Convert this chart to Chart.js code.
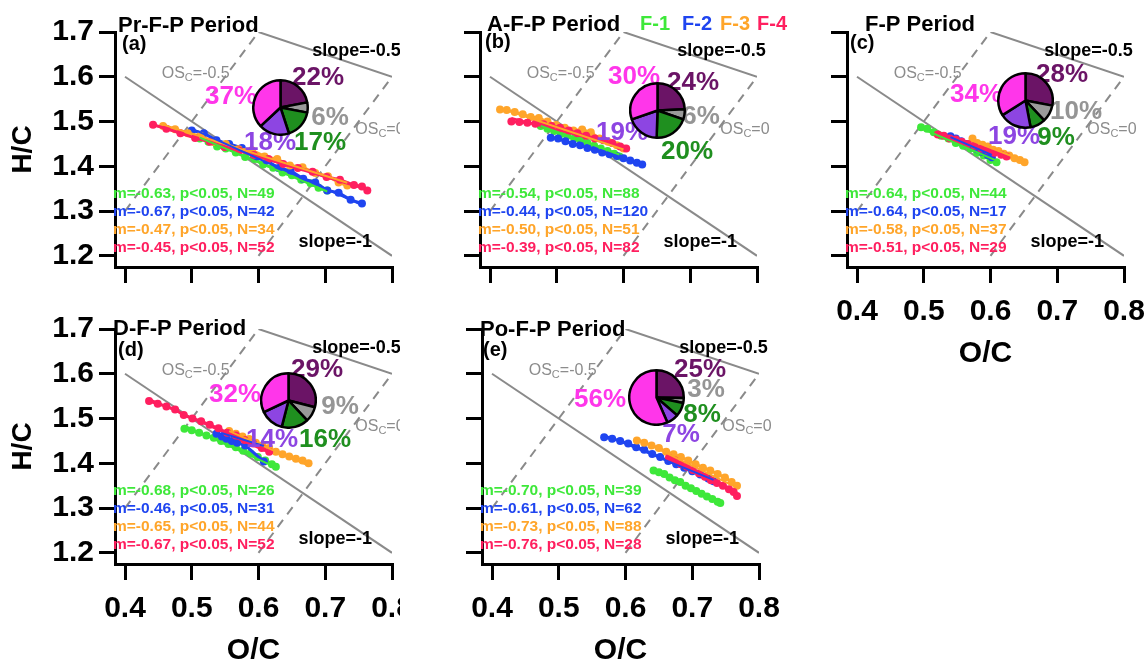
<!DOCTYPE html>
<html>
<head>
<meta charset="utf-8">
<script src="https://cdn.jsdelivr.net/npm/chart.js@4.4.1/dist/chart.umd.min.js"></script>
<style>
  html, body { margin: 0; padding: 0; background: #fff; overflow: hidden; }
  #wrap { position: relative; width: 1148px; height: 661px; }
  #wrap canvas { position: absolute; }
</style>
</head>
<body>
<div id="wrap"></div>
<script>
const FONT = '"Liberation Sans", Arial, Helvetica, sans-serif';

// Серии F-1..F-4 и их цвета
const seriesNames = ['F-1', 'F-2', 'F-3', 'F-4'];
const seriesColors = ['#3ee83a', '#1f45f0', '#ffa52a', '#ff1f5f'];

// Доли факторов для круговых диаграмм (по часовой стрелке от 12 часов)
const pieNames = ['purple', 'gray', 'green', 'violet', 'magenta'];
const pieColors = ['#6b1466', '#9a9a9a', '#1f8f1f', '#8d45e2', '#ff36ea'];
const pieTextColors = ['#6b1466', '#959595', '#1f8f1f', '#8d45e2', '#ff36ea'];

// Деления осей
const ocTicks = [0.4, 0.5, 0.6, 0.7, 0.8];
const hcTicks = [1.2, 1.3, 1.4, 1.5, 1.6, 1.7];

// Опорные линии Ван Кревелена (O/C, H/C)
const slopeHalfLine = [[0.6, 1.7], [0.8, 1.6]];
const slopeOneLine = [[0.4, 1.6], [0.8, 1.2]];
const oscMinusHalfLine = [[0.4, 1.3], [0.6, 1.7]];
const oscZeroLine = [[0.6, 1.2], [0.8, 1.6]];

// (a) Pr-F-P
const prF1 = [[0.512,1.462],[0.525,1.455],[0.538,1.444],[0.551,1.440],[0.566,1.431],[0.580,1.421],[0.594,1.416],[0.607,1.404],[0.622,1.397],[0.636,1.386],[0.650,1.380],[0.664,1.370],[0.678,1.362],[0.690,1.352],[0.703,1.346]];
const prF2 = [[0.500,1.480],[0.518,1.474],[0.537,1.458],[0.556,1.450],[0.575,1.441],[0.594,1.420],[0.612,1.413],[0.630,1.396],[0.648,1.390],[0.667,1.372],[0.685,1.364],[0.703,1.346],[0.720,1.341],[0.738,1.325],[0.755,1.317]];
const prF3 = [[0.457,1.490],[0.475,1.483],[0.494,1.474],[0.513,1.468],[0.532,1.455],[0.551,1.450],[0.570,1.438],[0.590,1.436],[0.609,1.422],[0.628,1.416],[0.647,1.402],[0.666,1.398],[0.685,1.385],[0.704,1.378],[0.720,1.364],[0.733,1.357]];
const prF4 = [[0.442,1.493],[0.462,1.484],[0.483,1.474],[0.505,1.463],[0.527,1.455],[0.549,1.443],[0.571,1.435],[0.593,1.425],[0.615,1.416],[0.637,1.405],[0.659,1.396],[0.681,1.388],[0.702,1.376],[0.722,1.370],[0.743,1.358],[0.755,1.355],[0.763,1.346]];
const prFit = [[0.512,1.464,0.703],[0.500,1.484,0.755],[0.457,1.493,0.733],[0.442,1.492,0.763]]; // x0, y0, x1
const prM = [-0.63, -0.67, -0.47, -0.45];
const prN = [49, 42, 34, 52];
const prPie = [22, 6, 17, 18, 37];

// (b) A-F-P
const aF1 = [[0.476,1.490],[0.486,1.484],[0.496,1.479],[0.506,1.472],[0.516,1.468],[0.526,1.462],[0.536,1.458],[0.546,1.452],[0.556,1.446],[0.566,1.440],[0.576,1.434],[0.586,1.428],[0.594,1.422]];
const aF2 = [[0.491,1.464],[0.502,1.462],[0.513,1.456],[0.524,1.450],[0.535,1.447],[0.546,1.441],[0.557,1.437],[0.568,1.431],[0.579,1.427],[0.590,1.423],[0.600,1.418],[0.610,1.413],[0.620,1.408],[0.628,1.404]];
const aF3 = [[0.415,1.527],[0.425,1.526],[0.437,1.521],[0.449,1.516],[0.461,1.510],[0.473,1.508],[0.486,1.500],[0.499,1.492],[0.512,1.486],[0.525,1.480],[0.538,1.482],[0.551,1.476],[0.564,1.462],[0.577,1.455],[0.590,1.447],[0.600,1.440]];
const aF4 = [[0.432,1.500],[0.444,1.499],[0.456,1.497],[0.468,1.495],[0.480,1.494],[0.492,1.490],[0.505,1.486],[0.518,1.480],[0.531,1.474],[0.544,1.468],[0.557,1.462],[0.570,1.458],[0.583,1.452],[0.595,1.444],[0.604,1.440]];
const aFit = [[0.476,1.490,0.594],[0.491,1.466,0.628],[0.415,1.530,0.600],[0.432,1.508,0.604]];
const aM = [-0.54, -0.44, -0.50, -0.39];
const aN = [88, 120, 51, 82];
const aPie = [24, 6, 20, 19, 30];

// (c) F-P
const fF1 = [[0.496,1.487],[0.505,1.484],[0.515,1.476],[0.526,1.468],[0.537,1.462],[0.548,1.452],[0.559,1.446],[0.570,1.440],[0.580,1.430],[0.590,1.424],[0.600,1.414],[0.609,1.409]];
const fF2 = [[0.540,1.467],[0.548,1.462],[0.556,1.456],[0.564,1.450],[0.572,1.444],[0.580,1.438],[0.588,1.432],[0.596,1.425],[0.602,1.420]];
const fF3 = [[0.573,1.462],[0.580,1.452],[0.588,1.448],[0.596,1.444],[0.604,1.437],[0.612,1.434],[0.620,1.428],[0.628,1.424],[0.636,1.418],[0.644,1.414],[0.651,1.409]];
const fF4 = [[0.521,1.471],[0.530,1.468],[0.539,1.462],[0.548,1.460],[0.557,1.455],[0.566,1.450],[0.576,1.446],[0.586,1.440],[0.596,1.436],[0.606,1.430],[0.616,1.426],[0.624,1.422]];
const fFit = [[0.496,1.485,0.609],[0.540,1.465,0.602],[0.573,1.457,0.651],[0.521,1.473,0.624]];
const fM = [-0.64, -0.64, -0.58, -0.51];
const fN = [44, 17, 37, 29];
const fPie = [28, 10, 9, 19, 34];

// (d) D-F-P
const dF1 = [[0.489,1.477],[0.500,1.474],[0.511,1.468],[0.522,1.462],[0.533,1.457],[0.544,1.450],[0.555,1.443],[0.566,1.436],[0.577,1.428],[0.588,1.422],[0.599,1.414],[0.610,1.406],[0.620,1.398],[0.626,1.392]];
const dF2 = [[0.537,1.466],[0.545,1.460],[0.552,1.455],[0.560,1.450],[0.568,1.446],[0.580,1.440],[0.608,1.404]];
const dF3 = [[0.556,1.472],[0.566,1.466],[0.576,1.460],[0.586,1.454],[0.596,1.446],[0.606,1.440],[0.616,1.434],[0.626,1.426],[0.636,1.420],[0.646,1.415],[0.656,1.410],[0.666,1.406],[0.675,1.400]];
const dF4 = [[0.436,1.539],[0.449,1.533],[0.462,1.527],[0.475,1.520],[0.488,1.508],[0.501,1.500],[0.514,1.494],[0.527,1.486],[0.540,1.478],[0.553,1.468],[0.566,1.462],[0.579,1.452],[0.592,1.444],[0.605,1.434],[0.616,1.426]];
const dFit = [[0.489,1.484,0.626],[0.544,1.468,0.608],[0.556,1.472,0.675],[0.436,1.544,0.616]];
const dM = [-0.68, -0.46, -0.65, -0.67];
const dN = [26, 31, 44, 52];
const dPie = [29, 9, 16, 14, 32];

// (e) Po-F-P
const pF1 = [[0.642,1.384],[0.650,1.380],[0.658,1.376],[0.666,1.368],[0.674,1.362],[0.682,1.358],[0.690,1.350],[0.698,1.344],[0.706,1.338],[0.714,1.332],[0.722,1.326],[0.730,1.320],[0.738,1.314],[0.742,1.311]];
const pF2 = [[0.568,1.458],[0.580,1.455],[0.592,1.450],[0.604,1.444],[0.616,1.436],[0.628,1.430],[0.640,1.421],[0.652,1.414],[0.664,1.405],[0.676,1.398],[0.688,1.390],[0.700,1.382],[0.712,1.375],[0.724,1.366],[0.732,1.360]];
const pF3 = [[0.617,1.451],[0.628,1.446],[0.639,1.440],[0.650,1.434],[0.661,1.426],[0.672,1.420],[0.683,1.414],[0.694,1.406],[0.705,1.398],[0.716,1.390],[0.727,1.384],[0.738,1.376],[0.749,1.368],[0.759,1.358],[0.767,1.350]];
const pF4 = [[0.665,1.412],[0.674,1.406],[0.683,1.398],[0.692,1.392],[0.701,1.385],[0.710,1.378],[0.719,1.370],[0.728,1.362],[0.737,1.356],[0.746,1.350],[0.755,1.342],[0.762,1.336],[0.767,1.327]];
const pFit = [[0.642,1.384,0.742],[0.568,1.463,0.732],[0.617,1.455,0.767],[0.665,1.412,0.767]];
const pM = [-0.70, -0.61, -0.73, -0.76];
const pN = [39, 62, 88, 28];
const pPie = [25, 3, 8, 7, 56];

// Раскладка панелей на странице (пиксели страницы)
const panels = [
  { title: 'Pr-F-P Period', tag: '(a)', series: [prF1, prF2, prF3, prF4], fit: prFit, m: prM, n: prN, pie: prPie,
    left: 0, top: 0, width: 400, yLab: true, xLab: false,
    titleAt: [118, 26], tagAt: [122, 44], pieAt: [280, 107],
    pctAt: [[318, 78], [330, 118], [320, 143], [270, 143], [231, 97]] },
  { title: 'A-F-P Period', tag: '(b)', series: [aF1, aF2, aF3, aF4], fit: aFit, m: aM, n: aN, pie: aPie,
    left: 365, top: 0, width: 430, yLab: false, xLab: false, legend: true,
    titleAt: [487, 25], tagAt: [485, 42], pieAt: [657, 110],
    pctAt: [[693, 83], [701, 117], [687, 152], [622, 133], [634, 77]] },
  { title: 'F-P Period', tag: '(c)', series: [fF1, fF2, fF3, fF4], fit: fFit, m: fM, n: fN, pie: fPie,
    left: 732, top: 0, width: 416, yLab: false, xLab: true,
    titleAt: [865, 25], tagAt: [850, 43], pieAt: [1025, 100],
    pctAt: [[1062, 75], [1076, 112], [1056, 138], [1014, 137], [976, 95]] },
  { title: 'D-F-P Period', tag: '(d)', series: [dF1, dF2, dF3, dF4], fit: dFit, m: dM, n: dN, pie: dPie,
    left: 0, top: 297, width: 400, yLab: true, xLab: true,
    titleAt: [113, 329], tagAt: [118, 350], pieAt: [288, 400],
    pctAt: [[317, 370], [340, 407], [325, 440], [272, 440], [235, 395]] },
  { title: 'Po-F-P Period', tag: '(e)', series: [pF1, pF2, pF3, pF4], fit: pFit, m: pM, n: pN, pie: pPie,
    left: 367, top: 297, width: 430, yLab: false, xLab: true,
    titleAt: [480, 330], tagAt: [483, 350], pieAt: [656, 397],
    pctAt: [[700, 370], [706, 390], [702, 415], [681, 435], [600, 400]] }
];

const AXIS_W = 115;   // ширина левой оси
const PLOT_W = 277;   // ширина области графика
const PAD_TOP = 32;
const CANVAS_H = 377;
const legendAt = [640, 682, 720, 757];

const wrap = document.getElementById('wrap');

function makeCanvas(left, top, w, h) {
  const c = document.createElement('canvas');
  c.width = w; c.height = h;
  c.style.left = left + 'px'; c.style.top = top + 'px';
  c.style.width = w + 'px'; c.style.height = h + 'px';
  wrap.appendChild(c);
  return c;
}

const toXY = pts => pts.map(p => ({ x: p[0], y: p[1] }));

function refSet(pts, dashed) {
  return {
    data: toXY(pts), showLine: true, borderColor: '#8a8a8a', borderWidth: 2,
    borderDash: dashed ? [9, 7] : [], pointRadius: 0, order: 10
  };
}

// Подписи OSc с нижним индексом
function oscLabel(ctx, value, x, y) {
  ctx.fillStyle = '#8c8c8c';
  ctx.textAlign = 'left';
  ctx.font = '16px ' + FONT;
  ctx.fillText('OS', x, y);
  let w = ctx.measureText('OS').width;
  ctx.font = '11px ' + FONT;
  ctx.fillText('C', x + w, y + 4);
  w += ctx.measureText('C').width;
  ctx.font = '16px ' + FONT;
  ctx.fillText('=' + value, x + w, y);
}

const panelText = {
  id: 'panelText',
  afterDatasetsDraw(chart, args, o) {
    const p = o.panel;
    const ctx = chart.ctx, sx = chart.scales.x, sy = chart.scales.y;
    const X = v => sx.getPixelForValue(v), Y = v => sy.getPixelForValue(v);
    const txt = (s, x, y, font, color, align) => {
      ctx.font = font; ctx.fillStyle = color; ctx.textAlign = align || 'left'; ctx.fillText(s, x, y);
    };
    ctx.save();
    ctx.textBaseline = 'middle';

    txt('slope=-0.5', X(0.813), Y(1.657), 'bold 18px ' + FONT, '#000', 'right');
    txt('slope=-1', X(0.770), Y(1.231), 'bold 18px ' + FONT, '#000', 'right');
    oscLabel(ctx, '-0.5', X(0.455), Y(1.607));
    oscLabel(ctx, '0', X(0.745), Y(1.482));

    // заголовок и буква панели
    txt(p.title, p.titleAt[0] - p.left, p.titleAt[1] - p.top, 'bold 22px ' + FONT, '#000');
    txt(p.tag, p.tagAt[0] - p.left, p.tagAt[1] - p.top, 'bold 20px ' + FONT, '#000');

    // статистика регрессии
    const sLeft = chart.chartArea.left - 2;
    p.m.forEach((m, i) => {
      txt('m=' + m.toFixed(2) + ', p<0.05, N=' + p.n[i], sLeft, chart.chartArea.top + 162 + i * 18,
        'bold 15.5px ' + FONT, seriesColors[i]);
    });

    // проценты круговой диаграммы
    p.pie.forEach((v, i) => {
      txt(v + '%', p.pctAt[i][0] - p.left, p.pctAt[i][1] - p.top, 'bold 26px ' + FONT, pieTextColors[i], 'center');
    });

    if (p.legend) {
      seriesNames.forEach((s, i) => {
        txt(s, legendAt[i] - p.left, 24 - p.top, 'bold 20px ' + FONT, seriesColors[i]);
      });
    }
    ctx.restore();
  }
};

panels.forEach(p => {
  const canvas = makeCanvas(p.left, p.top, p.width, CANVAS_H);

  const datasets = [
    refSet(slopeHalfLine, false),
    refSet(slopeOneLine, false),
    refSet(oscMinusHalfLine, true),
    refSet(oscZeroLine, true)
  ];
  p.series.forEach((pts, i) => {
    datasets.push({
      label: seriesNames[i], data: toXY(pts), showLine: true,
      borderColor: seriesColors[i], borderWidth: 3,
      pointRadius: 4, pointBackgroundColor: seriesColors[i], pointBorderWidth: 0,
      order: 4 - i
    });
  });
  // линии регрессии с наклоном m
  p.fit.forEach((f, i) => {
    const y1 = f[1] + p.m[i] * (f[2] - f[0]);
    datasets.push({
      data: [{ x: f[0], y: f[1] }, { x: f[2], y: y1 }], showLine: true,
      borderColor: seriesColors[i], borderWidth: 2, pointRadius: 0, order: 0
    });
  });

  const tickFont = { family: FONT, size: 30, weight: 'bold' };
  const gridOpts = { drawOnChartArea: false, drawTicks: true, tickLength: 16, tickWidth: 3, tickColor: '#000', color: '#000', lineWidth: 3 };

  new Chart(canvas, {
    type: 'scatter',
    data: { datasets },
    plugins: [panelText],
    options: {
      responsive: false,
      animation: false,
      events: [],
      layout: { padding: { top: PAD_TOP, left: 0, bottom: 0, right: p.width - AXIS_W - PLOT_W } },
      plugins: { legend: { display: false }, tooltip: { enabled: false }, panelText: { panel: p } },
      scales: {
        x: {
          type: 'linear', bounds: 'data', min: 0.385, max: 0.8,
          afterBuildTicks: s => { s.ticks = ocTicks.map(v => ({ value: v })); },
          afterFit: s => { s.height = 110; s.paddingLeft = 0; s.paddingRight = 0; },
          ticks: { callback: v => p.xLab ? v.toFixed(1) : '', font: tickFont, color: '#000', padding: 11, maxRotation: 0, autoSkip: false },
          grid: gridOpts,
          border: { display: true, color: '#000', width: 3 },
          title: { display: p.xLab, text: 'O/C', color: '#000', font: tickFont, padding: { top: 0, bottom: 5 } }
        },
        y: {
          type: 'linear', bounds: 'data', min: 1.175, max: 1.7,
          afterBuildTicks: s => { s.ticks = hcTicks.map(v => ({ value: v })); },
          afterFit: s => { s.width = AXIS_W; s.paddingTop = 0; s.paddingBottom = 0; },
          ticks: { callback: v => p.yLab ? v.toFixed(1) : '', font: tickFont, color: '#000', padding: 5, autoSkip: false },
          grid: gridOpts,
          border: { display: true, color: '#000', width: 3 },
          title: { display: p.yLab, text: 'H/C', color: '#000', font: { family: FONT, size: 28, weight: 'bold' }, padding: { top: 6, bottom: 0 } }
        }
      }
    }
  });
});

// Круговые диаграммы вкладов факторов
const PIE = 57;
panels.forEach(p => {
  const c = makeCanvas(Math.round(p.pieAt[0] - PIE / 2), Math.round(p.pieAt[1] - PIE / 2), PIE, PIE);
  new Chart(c, {
    type: 'pie',
    data: {
      labels: pieNames,
      datasets: [{ data: p.pie, backgroundColor: pieColors, borderColor: '#000', borderWidth: 2.5, hoverOffset: 0 }]
    },
    options: {
      responsive: false, animation: false, events: [],
      layout: { padding: 0 },
      plugins: { legend: { display: false }, tooltip: { enabled: false } }
    }
  });
});
</script>
</body>
</html>
